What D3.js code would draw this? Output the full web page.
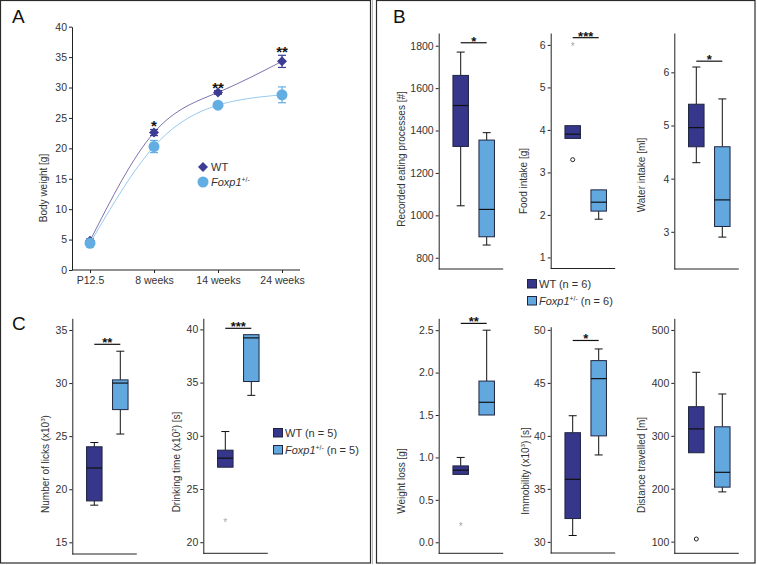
<!DOCTYPE html>
<meta charset="utf-8">
<style>
  body { margin: 0; background: #fff; }
  svg text { font-family: "Liberation Sans", Arial, sans-serif; fill: #333; }
</style>
<body>
<script src="https://cdn.jsdelivr.net/npm/d3@7"></script>
<script>
// ---- data ----
var weeks = ["P12.5", "8 weeks", "14 weeks", "24 weeks"];
var wtWeight = [4.8, 22.6, 29.2, 34.3];
var wtWeightErr = [0.3, 0.5, 0.3, 1.0];
var foxWeight = [4.4, 20.3, 27.1, 28.8];
var foxWeightErr = [0.3, 1.0, 0.4, 1.3];
var weightStars = ["", "*", "**", "**"];
var weightTicks = [0, 5, 10, 15, 20, 25, 30, 35, 40];

var groups = ["WT", "Foxp1"];
// box stats: [low whisker, q1, median, q3, high whisker]
var eatingWT = [1045, 1325, 1518, 1660, 1770];
var eatingFox = [860, 899, 1028, 1355, 1390];
var eatingTicks = [800, 1000, 1200, 1400, 1600, 1800];

var foodWT = [3.8, 3.8, 3.9, 4.1, 4.1];
var foodFox = [1.9, 2.09, 2.3, 2.59, 2.59];
var foodWTOut = [3.3];
var foodWTExt = [6.0];
var foodTicks = [1, 2, 3, 4, 5, 6];

var waterWT = [4.3, 4.6, 4.96, 5.4, 6.1];
var waterFox = [2.9, 3.1, 3.6, 4.6, 5.5];
var waterTicks = [3, 4, 5, 6];

var lossWT = [0.8, 0.8, 0.85, 0.9, 1.0];
var lossFox = [1.5, 1.5, 1.65, 1.9, 2.5];
var lossWTExt = [0.2];
var lossTicks = [0, 0.5, 1.0, 1.5, 2.0, 2.5];

var immobWT = [30.6, 32.2, 35.9, 40.3, 41.9];
var immobFox = [38.2, 40.0, 45.4, 47.1, 48.2];
var immobTicks = [30, 35, 40, 45, 50];

var distWT = [268, 268, 313, 355, 420];
var distFox = [194, 203, 231, 317, 379];
var distWTOut = [105];
var distTicks = [100, 200, 300, 400, 500];

var licksWT = [18.5, 18.9, 22.0, 24.0, 24.4];
var licksFox = [25.2, 27.5, 30.0, 30.3, 33.0];
var licksTicks = [15, 20, 25, 30, 35];

var drinkWT = [27.05, 27.05, 27.9, 28.65, 30.4];
var drinkFox = [33.8, 35.1, 39.2, 39.5, 39.5];
var drinkWTExt = [22.0];
var drinkTicks = [20, 25, 30, 35, 40];

// ---- style ----
var wtColor = "#3c3c94", foxColor = "#62aee3";
var wtBox = "#36368a", foxBox = "#62a8df", boxStroke = "#1f2540";
var wtLine = "#6f63a3", foxLine = "#8cc4ec";
var boxW = 15.5;

var svg = d3.select("body").append("svg")
    .attr("width", 757)
    .attr("height", 565);

// panel frames
svg.append("rect").attr("x", 0.5).attr("y", 0.5).attr("width", 370).attr("height", 562.5)
    .attr("fill", "none").attr("stroke", "#2a2a2a").attr("stroke-width", 1.2);
svg.append("line").attr("x1", 372.5).attr("x2", 372.5).attr("y1", 0).attr("y2", 564)
    .attr("stroke", "#b5b5b5");
svg.append("rect").attr("x", 376.5).attr("y", 0.5).attr("width", 378.5).attr("height", 562.5)
    .attr("fill", "none").attr("stroke", "#2a2a2a").attr("stroke-width", 1.2);

// panel letters
[["A", 12, 23], ["B", 393, 23], ["C", 12, 330]].forEach(function(p) {
    svg.append("text").attr("x", p[1]).attr("y", p[2]).style("font-size", "19px")
        .style("fill", "#111").text(p[0]);
});

// text with italic / superscript parts
function richText(sel, parts, size) {
    var shift = 0;
    parts.forEach(function(p) {
        var t = sel.append("tspan").text(p.t);
        if (p.sup) {
            t.attr("dy", -size * 0.4 - shift).style("font-size", (size * 0.62) + "px");
            shift = -size * 0.4;
        } else {
            if (shift) t.attr("dy", -shift);
            shift = 0;
        }
        if (p.it) t.style("font-style", "italic");
    });
}

function rotLabel(g, parts, cx, cy, size) {
    var t = g.append("text")
        .attr("transform", "translate(" + cx + "," + cy + ") rotate(-90)")
        .attr("text-anchor", "middle")
        .attr("dy", "0.35em")
        .style("font-size", size + "px");
    richText(t, parts, size);
}

function styleAxis(a) {
    a.selectAll("path, line").attr("stroke", "#222");
    a.selectAll("text").style("font-size", "10.5px").style("fill", "#333");
}

// ---- panel A ----
var xA = d3.scalePoint().domain(weeks).range([90, 282]);
var yA = d3.scaleLinear().domain([0, 40]).range([270, 26.7]);
var gA = svg.append("g");

gA.append("g").attr("transform", "translate(72,0)")
    .call(d3.axisLeft(yA).tickValues(weightTicks).tickFormat(d3.format("d"))
        .tickSize(3).tickSizeOuter(0).tickPadding(2))
    .call(styleAxis);
gA.append("g").attr("transform", "translate(0,270)")
    .call(d3.axisBottom(xA).tickSize(3).tickPadding(4))
    .call(styleAxis)
    .select(".domain").remove();
gA.append("line").attr("x1", 72).attr("x2", 300).attr("y1", 270).attr("y2", 270)
    .attr("stroke", "#222");

rotLabel(gA, [{t: "Body weight [g]"}], 43, 188, 10);

function weightSeries(vals, errs, lineColor, color, marker) {
    var line = d3.line()
        .x(function(d, i) { return xA(weeks[i]); })
        .y(function(d) { return yA(d); })
        .curve(d3.curveNatural);
    gA.append("path").datum(vals).attr("d", line)
        .attr("fill", "none").attr("stroke", lineColor).attr("stroke-width", 0.9);
    var pts = gA.append("g").selectAll("g").data(vals).enter().append("g")
        .attr("transform", function(d, i) { return "translate(" + xA(weeks[i]) + "," + yA(d) + ")"; });
    pts.append("line")
        .attr("y1", function(d, i) { return yA(d + errs[i]) - yA(d); })
        .attr("y2", function(d, i) { return yA(d - errs[i]) - yA(d); })
        .attr("stroke", color).attr("stroke-width", 1.2);
    [1, -1].forEach(function(s) {
        pts.append("line").attr("x1", -4).attr("x2", 4)
            .attr("y1", function(d, i) { return yA(d + s * errs[i]) - yA(d); })
            .attr("y2", function(d, i) { return yA(d + s * errs[i]) - yA(d); })
            .attr("stroke", color).attr("stroke-width", 1.2);
    });
    if (marker == "diamond") {
        pts.append("path").attr("d", "M0,-5L5,0L0,5L-5,0Z").attr("fill", color);
    } else {
        pts.append("circle").attr("r", 5.5).attr("fill", color);
    }
}
weightSeries(wtWeight, wtWeightErr, wtLine, wtColor, "diamond");
weightSeries(foxWeight, foxWeightErr, foxLine, foxColor, "circle");

gA.append("g").selectAll("text").data(weightStars).enter().append("text")
    .attr("x", function(d, i) { return xA(weeks[i]); })
    .attr("y", function(d, i) { return yA(wtWeight[i] + wtWeightErr[i]) + 2; })
    .attr("text-anchor", "middle")
    .style("font-size", "15px").style("font-weight", "bold").style("fill", "#111")
    .text(function(d) { return d; });

// legend A
gA.append("path").attr("d", "M0,-5L5,0L0,5L-5,0Z").attr("fill", wtColor)
    .attr("transform", "translate(203,167)");
gA.append("circle").attr("cx", 203).attr("cy", 182).attr("r", 5.5).attr("fill", foxColor);
gA.append("text").attr("x", 211).attr("y", 171).style("font-size", "11px").text("WT");
richText(gA.append("text").attr("x", 211).attr("y", 186).style("font-size", "11px"),
    [{t: "Foxp1", it: true}, {t: "+/-", sup: true}], 11);

// ---- box plots ----
var boxCharts = [
    {wt: eatingWT, fox: eatingFox, ticks: eatingTicks, domain: [747, 1860], x: 438.7, top: 33, bottom: 269,
     label: [{t: "Recorded eating processes [#]"}], lx: 401.7, ly: 159, sig: [1814, "*"]},
    {wt: foodWT, fox: foodFox, ticks: foodTicks, domain: [0.74, 6.28], x: 550.7, top: 33, bottom: 268.5,
     label: [{t: "Food intake [g]"}], lx: 523, ly: 181, sig: [6.17, "***"], out: foodWTOut, ext: foodWTExt},
    {wt: waterWT, fox: waterFox, ticks: waterTicks, domain: [2.30, 6.74], x: 674.3, top: 33, bottom: 269,
     label: [{t: "Water intake [ml]"}], lx: 641.7, ly: 175, sig: [6.21, "*"]},
    {wt: lossWT, fox: lossFox, ticks: lossTicks, domain: [-0.13, 2.64], x: 438.7, top: 318.3, bottom: 553.3,
     label: [{t: "Weight loss [g]"}], lx: 401.7, ly: 481, sig: [2.58, "**"], ext: lossWTExt, fmt: ".1f"},
    {wt: immobWT, fox: immobFox, ticks: immobTicks, domain: [28.95, 50.3], x: 550.7, top: 326.7, bottom: 553,
     label: [{t: "Immobility (x10"}, {t: "3", sup: true}, {t: ") [s]"}], lx: 525, ly: 471, sig: [49.0, "*"]},
    {wt: distWT, fox: distFox, ticks: distTicks, domain: [78, 522], x: 674.3, top: 318.3, bottom: 553.3,
     label: [{t: "Distance travelled [m]"}], lx: 641.7, ly: 465, out: distWTOut},
    {wt: licksWT, fox: licksFox, ticks: licksTicks, domain: [13.9, 36.1], x: 72.3, top: 318.3, bottom: 554,
     label: [{t: "Number of licks (x10"}, {t: "3", sup: true}, {t: ")"}], lx: 45, ly: 464, sig: [33.65, "**"]},
    {wt: drinkWT, fox: drinkFox, ticks: drinkTicks, domain: [18.96, 41.04], x: 203.3, top: 318.3, bottom: 553.3,
     label: [{t: "Drinking time (x10"}, {t: "2", sup: true}, {t: ") [s]"}], lx: 176.7, ly: 462, sig: [40.1, "***"], ext: drinkWTExt}
];

boxCharts.forEach(function(c) {
    var g = svg.append("g");
    var y = d3.scaleLinear().domain(c.domain).range([c.bottom, c.top]);
    var x = d3.scalePoint().domain(groups).range([c.x + 22, c.x + 48]);

    var axis = d3.axisLeft(y).tickValues(c.ticks).tickFormat(d3.format(c.fmt || "d"))
        .tickSize(3).tickSizeOuter(0).tickPadding(2);
    g.append("g").attr("transform", "translate(" + c.x + ",0)").call(axis).call(styleAxis);
    g.append("line").attr("x1", c.x).attr("x2", c.x + 64.5).attr("y1", c.bottom).attr("y2", c.bottom)
        .attr("stroke", "#222");

    rotLabel(g, c.label, c.lx, c.ly, 10);

    [[c.wt, "WT", wtBox], [c.fox, "Foxp1", foxBox]].forEach(function(b) {
        var s = b[0], cx = x(b[1]);
        if (s[4] > s[3]) {
            g.append("line").attr("x1", cx).attr("x2", cx).attr("y1", y(s[3])).attr("y2", y(s[4])).attr("stroke", "#111");
            g.append("line").attr("x1", cx - 4).attr("x2", cx + 4).attr("y1", y(s[4])).attr("y2", y(s[4])).attr("stroke", "#111");
        }
        if (s[0] < s[1]) {
            g.append("line").attr("x1", cx).attr("x2", cx).attr("y1", y(s[1])).attr("y2", y(s[0])).attr("stroke", "#111");
            g.append("line").attr("x1", cx - 4).attr("x2", cx + 4).attr("y1", y(s[0])).attr("y2", y(s[0])).attr("stroke", "#111");
        }
        g.append("rect").attr("x", cx - boxW / 2).attr("width", boxW)
            .attr("y", y(s[3])).attr("height", y(s[1]) - y(s[3]))
            .attr("fill", b[2]).attr("stroke", boxStroke).attr("stroke-width", 1);
        g.append("line").attr("x1", cx - boxW / 2).attr("x2", cx + boxW / 2)
            .attr("y1", y(s[2])).attr("y2", y(s[2])).attr("stroke", "#111").attr("stroke-width", 1.2);
    });

    (c.out || []).forEach(function(v) {
        g.append("circle").attr("cx", x("WT")).attr("cy", y(v)).attr("r", 2)
            .attr("fill", "#fff").attr("stroke", "#222");
    });
    (c.ext || []).forEach(function(v) {
        g.append("text").attr("x", x("WT")).attr("y", y(v) + 5).attr("text-anchor", "middle")
            .style("font-size", "10px").style("fill", "#aaa").text("*");
    });

    if (c.sig) {
        var sy = y(c.sig[0]);
        g.append("line").attr("x1", x("WT")).attr("x2", x("Foxp1")).attr("y1", sy).attr("y2", sy)
            .attr("stroke", "#111").attr("stroke-width", 1.2);
        g.append("text").attr("x", (x("WT") + x("Foxp1")) / 2).attr("y", sy + 3)
            .attr("text-anchor", "middle")
            .style("font-size", "13px").style("font-weight", "bold").style("fill", "#111")
            .text(c.sig[1]);
    }
});

// ---- legends ----
function boxLegend(lx, ly, n) {
    var g = svg.append("g");
    [[wtBox, [{t: "WT (n = " + n + ")"}]],
     [foxBox, [{t: "Foxp1", it: true}, {t: "+/-", sup: true}, {t: " (n = " + n + ")"}]]].forEach(function(r, i) {
        g.append("rect").attr("x", lx).attr("y", ly + i * 17).attr("width", 9).attr("height", 8.5)
            .attr("fill", r[0]).attr("stroke", boxStroke);
        richText(g.append("text").attr("x", lx + 11.5).attr("y", ly + 8.5 + i * 17).style("font-size", "11px"), r[1], 11);
    });
}
boxLegend(527.5, 279.5, 6);
boxLegend(273.5, 428.5, 5);
</script>
</body>
